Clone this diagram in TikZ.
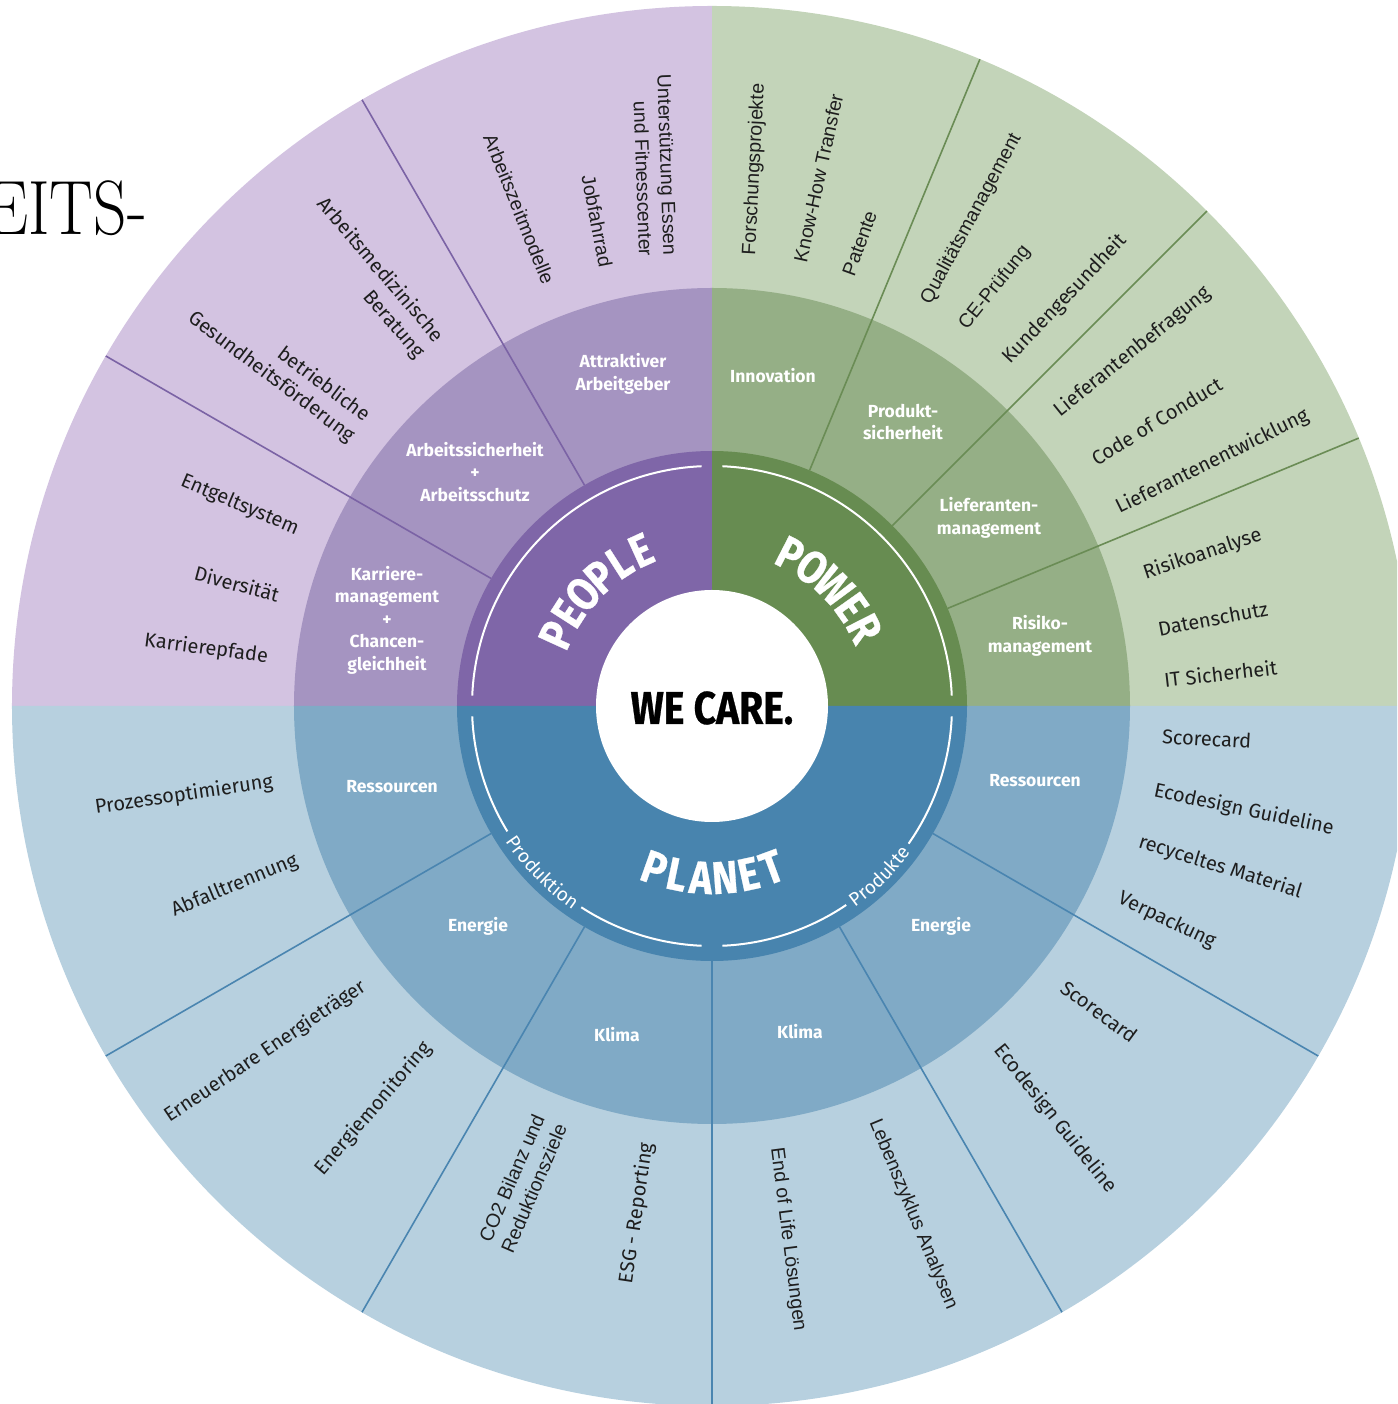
\documentclass[tikz,border=0pt]{standalone}
\usepackage{fontspec}
\usepackage{graphicx}
\usetikzlibrary{decorations.text}
\newfontfamily\dinfont{Fira Sans}
\newfontfamily\arialfont{Liberation Sans}
\newfontfamily\headfont[FakeStretch=0.85]{Fira Sans}
\newfontfamily\heavyfont[FakeStretch=0.85,FakeBold=0.6]{Fira Sans}

\definecolor{pplO}{HTML}{D3C3E1}
\definecolor{pplM}{HTML}{A594C1}
\definecolor{pplI}{HTML}{7F66A8}
\definecolor{pplL}{HTML}{7B63A5}
\definecolor{powO}{HTML}{C3D4B9}
\definecolor{powM}{HTML}{95AF86}
\definecolor{powI}{HTML}{678C51}
\definecolor{powL}{HTML}{6A8C55}
\definecolor{plaO}{HTML}{B7D0DF}
\definecolor{plaM}{HTML}{80AAC6}
\definecolor{plaI}{HTML}{4884AE}
\definecolor{plaL}{HTML}{4A85B0}
\definecolor{txt}{HTML}{1E1E1E}

\begin{document}
\begin{tikzpicture}[x=1pt,y=1pt,
  lblin/.style={anchor=east, inner sep=0pt, align=right, text=txt,
    font=\dinfont\fontsize{20}{25}\selectfont},
  lblout/.style={anchor=west, inner sep=0pt, align=left, text=txt,
    font=\dinfont\fontsize{20}{25}\selectfont},
  arial/.style={font=\arialfont\fontsize{19.5}{24.5}\selectfont},
  mid/.style={inner sep=0pt, align=center, text=white,
    font=\dinfont\bfseries\fontsize{17.5}{22.5}\selectfont},
  bigletter/.style={inner sep=0pt, text=white,
    font=\heavyfont\bfseries\fontsize{46}{46}\selectfont},
  divider/.style={line width=1.6pt},
  inarc/.style={white, line width=2pt},
]
\useasboundingbox (-712,-698) rectangle (685,706);
\clip (-712,-698) rectangle (685,706);

% outer ring
\fill[pplO] (0,0) -- (90:700) arc[start angle=90,end angle=180,radius=700] -- cycle;
\fill[powO] (0,0) -- (0:700) arc[start angle=0,end angle=90,radius=700] -- cycle;
\fill[plaO] (0,0) -- (180:700) arc[start angle=180,end angle=360,radius=700] -- cycle;
% middle ring
\fill[pplM] (0,0) -- (90:418) arc[start angle=90,end angle=180,radius=418] -- cycle;
\fill[powM] (0,0) -- (0:418) arc[start angle=0,end angle=90,radius=418] -- cycle;
\fill[plaM] (0,0) -- (180:418) arc[start angle=180,end angle=360,radius=418] -- cycle;
% dividers
\foreach \a in {120,150} \draw[pplL, divider] (\a:255) -- (\a:700);
\foreach \a in {22.5,45,67.5} \draw[powL, divider] (\a:255) -- (\a:700);
\foreach \a in {210,240,270,300,330} \draw[plaL, divider] (\a:255) -- (\a:700);
% inner ring
\fill[pplI] (0,0) -- (90:255) arc[start angle=90,end angle=180,radius=255] -- cycle;
\fill[powI] (0,0) -- (0:255) arc[start angle=0,end angle=90,radius=255] -- cycle;
\fill[plaI] (0,0) -- (180:255) arc[start angle=180,end angle=360,radius=255] -- cycle;
% centre
\fill[white] (0,0) circle[radius=116];

% thin white arcs
\draw[inarc] (92.5:240) arc[start angle=92.5,end angle=177.5,radius=240];
\draw[inarc] (2.5:240) arc[start angle=2.5,end angle=87.5,radius=240];
\draw[inarc] (182.5:240) arc[start angle=182.5,end angle=211.5,radius=240];
\draw[inarc] (237:240) arc[start angle=237,end angle=267.5,radius=240];
\draw[inarc] (272.5:240) arc[start angle=272.5,end angle=304,radius=240];
\draw[inarc] (325:240) arc[start angle=325,end angle=357.5,radius=240];

% curved words
\foreach \l/\a [count=\i] in {P/155.5, E/147.3, O/139.1, P/130.9, L/122.7, E/114.5}
  \node[bigletter, rotate=\a-90] (people\i) at (\a:171) {\l};
\foreach \l/\a [count=\i] in {P/62.8, O/54.2, W/44.6, E/35.3, R/26.9}
  \node[bigletter, rotate=\a-90] (power\i) at (\a:171) {\l};
\foreach \l/\a [count=\i] in {P/250.4, L/258.3, A/266.3, N/274.3, E/282.3, T/290.3}
  \node[bigletter, rotate=\a-270] (planet\i) at (\a:172) {\l};
\path[decorate, decoration={text along path, text align=center, text color=white,
  text={|\dinfont\fontsize{19}{19}\selectfont|Produktion}}]
  (204.5:247) arc[start angle=204.5,end angle=244.5,radius=247];
\path[decorate, decoration={text along path, text align=center, text color=white,
  text={|\dinfont\fontsize{19}{19}\selectfont|Produkte}}]
  (294.5:247) arc[start angle=294.5,end angle=334.5,radius=247];

\node[inner sep=0pt, font=\heavyfont\bfseries\fontsize{46}{46}\selectfont] (care) at (0,-2) {WE CARE.};

% middle labels
\node[mid] (m1) at (-89,332) {Attraktiver\\Arbeitgeber};
\node[mid] (m2) at (-237,234) {Arbeitssicherheit\\+\\Arbeitsschutz};
\node[mid] (m3) at (-325,86) {Karriere-\\management\\+\\Chancen-\\gleichheit};
\node[mid] (m4) at (61,330) {Innovation};
\node[mid] (m5) at (191,284) {Produkt-\\sicherheit};
\node[mid] (m6) at (277,188) {Lieferanten-\\management};
\node[mid] (m7) at (328,70) {Risiko-\\management};
\node[mid] (m8) at (-320,-81) {Ressourcen};
\node[mid] (m9) at (-234,-220) {Energie};
\node[mid] (m10) at (-95,-329) {Klima};
\node[mid] (m11) at (88,-326) {Klima};
\node[mid] (m12) at (229,-220) {Energie};
\node[mid] (m13) at (323,-75) {Ressourcen};

% outer labels, left half (reading inward)
\node[lblin, arial, rotate=-88] (o1) at (-54,450) {Unterstützung Essen\\und Fitnesscenter};
\node[lblin, arial, rotate=-79] (o2) at (-106,439) {Jobfahrrad};
\node[lblin, arial, rotate=-68] (o3) at (-163,423) {Arbeitszeitmodelle};
\node[lblin, rotate=-49.5] (o4) at (-282,358) {Arbeitsmedizinische\\Beratung};
\node[lblin, rotate=-37] (o5) at (-352,278) {betriebliche\\Gesundheitsförderung};
\node[lblin, rotate=-23] (o6) at (-414,176) {Entgeltsystem};
\node[lblin, rotate=-15] (o7) at (-433,111) {Diversität};
\node[lblin, rotate=-7.5] (o8) at (-444,49) {Karrierepfade};
\node[lblin, rotate=8.4] (o9) at (-439,-76) {Prozessoptimierung};
\node[lblin, rotate=22.5] (o10) at (-415,-154) {Abfalltrennung};
\node[lblin, rotate=34] (o11) at (-348,-279) {Erneuerbare Energieträger};
\node[lblin, rotate=49.5] (o12) at (-284,-339) {Energiemonitoring};
\node[lblin, arial, rotate=66.6] (o13) at (-162,-414) {CO2 Bilanz und\\Reduktionsziele};
\node[lblin, rotate=81.6] (o14) at (-65,-437) {ESG - Reporting};

% outer labels, right half (reading outward)
\node[lblout, arial, rotate=87] (o15) at (38,451) {Forschungsprojekte};
\node[lblout, arial, rotate=77.7] (o16) at (88,444) {Know-How Transfer};
\node[lblout, arial, rotate=70] (o17) at (136,431) {Patente};
\node[lblout, arial, rotate=61.6] (o18) at (214,403) {Qualitätsmanagement};
\node[lblout, arial, rotate=51.3] (o19) at (251,378) {CE-Prüfung};
\node[lblout, rotate=46.5] (o20) at (294,345) {Kundengesundheit};
\node[lblout, rotate=38.9] (o21) at (345,293) {Lieferantenbefragung};
\node[lblout, rotate=31.5] (o22) at (381,246) {Code of Conduct};
\node[lblout, rotate=26.3] (o23) at (405,197) {Lieferantenentwicklung};
\node[lblout, rotate=18.4] (o24) at (432,132) {Risikoanalyse};
\node[lblout, rotate=10.6] (o25) at (446,77) {Datenschutz};
\node[lblout, rotate=6.5] (o26) at (452,26) {IT Sicherheit};
\node[lblout, rotate=-3.4] (o27) at (450,-30) {Scorecard};
\node[lblout, rotate=-12] (o28) at (442,-85) {Ecodesign Guideline};
\node[lblout, rotate=-17.3] (o29) at (427,-136) {recyceltes Material};
\node[lblout, rotate=-25.3] (o30) at (407,-192) {Verpackung};
\node[lblout, rotate=-36.5] (o31) at (351,-279) {Scorecard};
\node[lblout, rotate=-51.4] (o32) at (286,-341) {Ecodesign Guideline};
\node[lblout, arial, rotate=-67.5] (o33) at (162,-414) {Lebenszyklus Analysen};
\node[lblout, arial, rotate=-82.7] (o34) at (64,-442) {End of Life Lösungen};

% cropped title fragment
\node[anchor=base east, inner sep=0pt, font=\rmfamily\fontsize{77}{77}\selectfont] (title) at (-565,471) {\scalebox{0.85}[1]{EITS-}};
\end{tikzpicture}
\end{document}
